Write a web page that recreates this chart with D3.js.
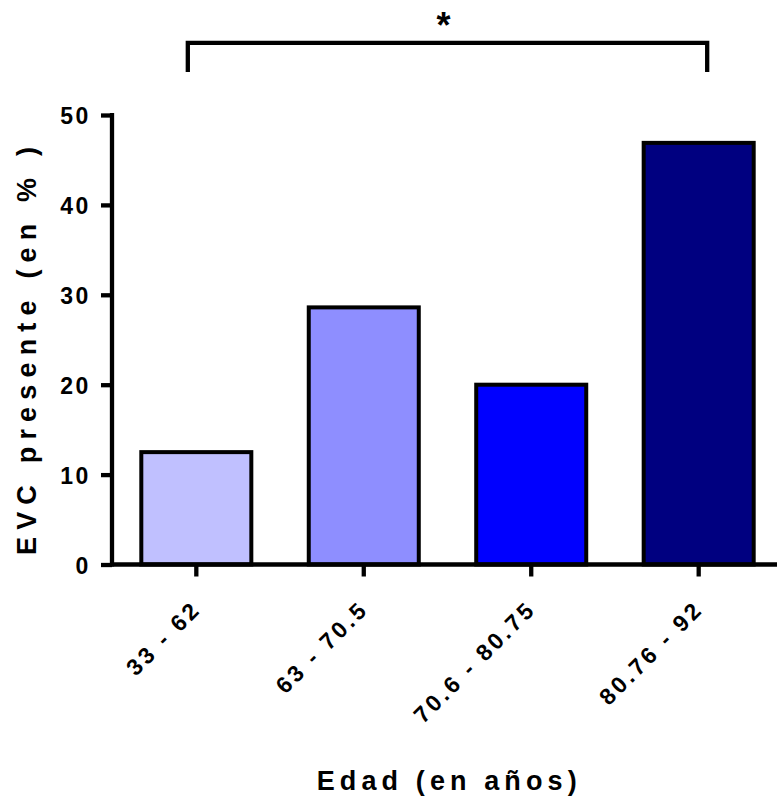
<!DOCTYPE html>
<html>
<head>
<meta charset="utf-8">
<script src="https://cdn.jsdelivr.net/npm/d3@7"></script>
<style>
  html, body { margin: 0; padding: 0; background: #fff; }
  svg { display: block; }
  text { font-family: "Liberation Sans", Arial, sans-serif; font-weight: bold; fill: #000; }
</style>
</head>
<body>
<svg id="chart" width="777" height="799"></svg>
<script>
// ---- data ----
const categories = ["33 - 62", "63 - 70.5", "70.6 - 80.75", "80.76 - 92"];
const values = [12.5, 28.6, 20, 46.9];
const barColors = ["#C0C0FF", "#8E8EFF", "#0000FF", "#000080"];
const yTicks = [0, 10, 20, 30, 40, 50];
const yTitle = "EVC presente (en % )";
const xTitle = "Edad (en años)";
const sigLabel = "*";

// ---- layout ----
const svg = d3.select("#chart");
const axisX = 112, axisY0 = 564.5, axisYTop = 115;

const x = d3.scaleBand()
  .domain(categories)
  .range([axisX, 783])
  .paddingInner(0.343)
  .paddingOuter(0.175);

const y = d3.scaleLinear()
  .domain([0, 50])
  .range([axisY0, axisYTop]);

// bars
svg.append("g").selectAll("rect")
  .data(categories)
  .join("rect")
  .attr("x", d => x(d))
  .attr("y", (d, i) => y(values[i]))
  .attr("width", x.bandwidth())
  .attr("height", (d, i) => y(0) - y(values[i]))
  .attr("fill", (d, i) => barColors[i])
  .attr("stroke", "#000")
  .attr("stroke-width", 4);

// y axis
const yAxis = d3.axisLeft(y).tickValues(yTicks).tickSize(11).tickPadding(0).tickFormat(d3.format("d"));
const gy = svg.append("g").attr("transform", `translate(${axisX},0)`).call(yAxis);
gy.select(".domain").attr("d", `M0,${axisYTop - 2}V${axisY0 + 2}`).attr("stroke", "#000").attr("stroke-width", 4.3).attr("fill", "none");
gy.selectAll(".tick line").attr("stroke", "#000").attr("stroke-width", 4.3);
gy.selectAll(".tick text")
  .attr("x", -21)
  .attr("dy", "0.37em")
  .attr("font-size", 23)
  .attr("letter-spacing", 2.6)
  .style("font-family", "'Liberation Sans', Arial, sans-serif")
  .style("font-weight", "bold")
  .attr("fill", "#000");

// x axis
const xAxis = d3.axisBottom(x).tickSize(12).tickFormat("");
const gx = svg.append("g").attr("transform", `translate(0,${axisY0})`).call(xAxis);
gx.select(".domain").attr("d", `M${axisX - 2},0H${x.range()[1]}`).attr("stroke", "#000").attr("stroke-width", 4.3).attr("fill", "none");
gx.selectAll(".tick line").attr("stroke", "#000").attr("stroke-width", 4.3);

// x tick labels (rotated)
svg.append("g").selectAll("text")
  .data(categories)
  .join("text")
  .attr("transform", d => `translate(${x(d) + x.bandwidth() / 2 + 6},${axisY0 + 46}) rotate(-45)`)
  .attr("text-anchor", "end")
  .attr("font-size", 23)
  .attr("letter-spacing", 3.2)
  .text(d => d);

// axis titles
svg.append("text")
  .attr("transform", `translate(36,351) rotate(-90)`)
  .attr("text-anchor", "middle")
  .attr("font-size", 27)
  .attr("textLength", 408)
  .attr("lengthAdjust", "spacing")
  .text(yTitle);

svg.append("text")
  .attr("x", 446.7)
  .attr("y", 789.5)
  .attr("text-anchor", "middle")
  .attr("font-size", 27)
  .attr("textLength", 260)
  .attr("lengthAdjust", "spacing")
  .text(xTitle);

// significance bracket
const bx0 = x(categories[0]) + x.bandwidth() / 2 - 8.5;
const bx1 = x(categories[3]) + x.bandwidth() / 2 + 8.5;
const bTop = 42.8, bBot = 72;
svg.append("path")
  .attr("d", `M${bx0},${bBot}V${bTop}H${bx1}V${bBot}`)
  .attr("fill", "none")
  .attr("stroke", "#000")
  .attr("stroke-width", 4.3);

svg.append("text")
  .attr("x", (bx0 + bx1) / 2 - 4)
  .attr("y", 38)
  .attr("text-anchor", "middle")
  .attr("font-size", 36)
  .text(sigLabel);
</script>
</body>
</html>
